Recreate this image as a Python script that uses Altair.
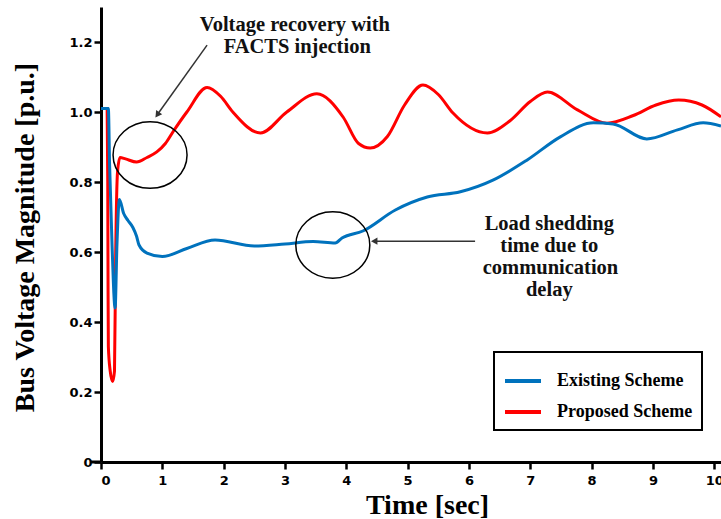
import altair as alt
import pandas as pd

# ---- data ----
time_existing = [0, 0.12, 0.14, 0.18, 0.23, 0.26, 0.30, 0.37, 0.44, 0.52, 0.58, 0.62, 0.75, 1.0, 1.4,
                 1.86, 2.5, 3.0, 3.46, 3.82, 3.93, 4.27, 4.8, 5.32, 5.86, 6.4, 6.95, 7.49, 8.03, 8.35,
                 8.9, 9.4, 9.82, 10.11]
v_existing = [1.01, 1.01, 0.85, 0.62, 0.44, 0.62, 0.75, 0.71, 0.69, 0.67, 0.645, 0.62, 0.597, 0.587, 0.61,
              0.634, 0.617, 0.623, 0.63, 0.626, 0.64, 0.66, 0.72, 0.757, 0.772, 0.806, 0.863, 0.929, 0.969, 0.966,
              0.923, 0.949, 0.969, 0.96]

time_proposed = [0, 0.10, 0.11, 0.115, 0.12, 0.15, 0.19, 0.22, 0.24, 0.27, 0.31, 0.40, 0.58, 0.75, 0.91,
                 1.05, 1.18, 1.4, 1.73, 1.95, 2.15, 2.6, 3.03, 3.52, 3.95, 4.2, 4.39, 4.67, 4.95, 5.25,
                 5.5, 5.74, 6.3, 6.67, 7.0, 7.28, 7.77, 8.25, 8.68, 9.05, 9.42, 9.8, 10.11]
v_proposed = [1.01, 1.01, 0.8, 0.5, 0.33, 0.26, 0.23, 0.26, 0.6, 0.83, 0.87, 0.866, 0.857, 0.87, 0.886,
              0.91, 0.945, 1.0, 1.07, 1.045, 1.0, 0.94, 1.0, 1.052, 0.985, 0.91, 0.897, 0.93, 1.02, 1.077,
              1.05, 0.997, 0.94, 0.975, 1.03, 1.057, 1.006, 0.968, 0.99, 1.02, 1.034, 1.02, 0.986]

series_names = ["Existing Scheme", "Proposed Scheme"]
series_colors = ["#0072BD", "#FF0000"]

x_ticks = list(range(0, 11))
y_ticks = [0, 0.2, 0.4, 0.6, 0.8, 1.0, 1.2]

# annotations (data coordinates)
note_text = ["Voltage recovery with", "FACTS injection",
             "Load shedding", "time due to", "communication", "delay"]
note_t = [3.16, 3.20, 7.31, 7.31, 7.33, 7.31]
note_v = [1.249, 1.186, 0.68, 0.617, 0.554, 0.491]

ellipse_t = [0.80, 3.78]
ellipse_v = [0.877, 0.62]

arrow_t0 = [1.73, 6.10]
arrow_v0 = [1.191, 0.631]
arrow_t1 = [0.92, 4.44]
arrow_v1 = [0.993, 0.631]
arrow_head_t = [0.918, 4.455]
arrow_head_v = [0.992, 0.631]
arrow_angle = [215.6, 270]

# ---- tables ----
df_e = pd.DataFrame({"t": time_existing, "v": v_existing, "series": series_names[0]})
df_p = pd.DataFrame({"t": time_proposed, "v": v_proposed, "series": series_names[1]})
df_notes = pd.DataFrame({"t": note_t, "v": note_v, "text": note_text})
df_ell = pd.DataFrame({"t": ellipse_t, "v": ellipse_v})
df_arr = pd.DataFrame({"t0": arrow_t0, "v0": arrow_v0, "t1": arrow_t1, "v1": arrow_v1})
df_head = pd.DataFrame({"t": arrow_head_t, "v": arrow_head_v, "angle": arrow_angle})

x_scale = alt.Scale(domain=[0, 10.11], nice=False, zero=False)
y_scale = alt.Scale(domain=[0, 1.3], nice=False)
color_scale = alt.Scale(domain=series_names, range=series_colors)

x_axis = alt.Axis(values=x_ticks, title="Time [sec]", format="d",
                  titleX=326, titleY=43, titleBaseline="middle", titleAlign="center",
                  labelPadding=5)
y_axis = alt.Axis(values=y_ticks, title="Bus Voltage Magnitude [p.u.]",
                  labelExpr="datum.value == 0 ? '0' : format(datum.value, '.1f')",
                  titleX=-76, titleY=230, titleBaseline="middle", titleAlign="center",
                  titleAngle=270, labelPadding=2)

legend = alt.Legend(title=None, orient="none", legendX=393, legendY=345,
                    symbolType="stroke", symbolSize=1296, symbolStrokeWidth=4,
                    labelFont="Liberation Serif", labelFontWeight="bold", labelFontSize=18,
                    labelColor="black", labelOffset=14, rowPadding=2, padding=9,
                    strokeColor="black", fillColor="white")

red_line = alt.Chart(df_p).mark_line(strokeWidth=3, interpolate="monotone").encode(
    x=alt.X("t:Q", scale=x_scale, axis=x_axis),
    y=alt.Y("v:Q", scale=y_scale, axis=y_axis),
    color=alt.Color("series:N", scale=color_scale, legend=legend),
)
blue_line = alt.Chart(df_e).mark_line(strokeWidth=3, interpolate="monotone").encode(
    x=alt.X("t:Q", scale=x_scale),
    y=alt.Y("v:Q", scale=y_scale),
    color=alt.Color("series:N", scale=color_scale, legend=legend),
)

ellipses = alt.Chart(df_ell).mark_point(
    shape="M -1 0 A 1 0.9 0 1 0 1 0 A 1 0.9 0 1 0 -1 0 Z",
    size=5476, filled=False, stroke="black", strokeWidth=1.5, opacity=1,
).encode(x=alt.X("t:Q", scale=x_scale), y=alt.Y("v:Q", scale=y_scale))

arrows = alt.Chart(df_arr).mark_rule(color="#333333", strokeWidth=1.5).encode(
    x=alt.X("t0:Q", scale=x_scale), y=alt.Y("v0:Q", scale=y_scale),
    x2="t1:Q", y2="v1:Q",
)
heads = alt.Chart(df_head).mark_point(shape="triangle-up", filled=True, size=55,
                                       color="#333333", opacity=1).encode(
    x=alt.X("t:Q", scale=x_scale), y=alt.Y("v:Q", scale=y_scale),
    angle=alt.Angle("angle:Q", scale=None),
)

notes = alt.Chart(df_notes).mark_text(font="Liberation Serif", fontWeight="bold",
                                       fontSize=20.5, color="#111111", baseline="middle",
                                       align="center").encode(
    x=alt.X("t:Q", scale=x_scale), y=alt.Y("v:Q", scale=y_scale), text="text:N",
)

axis_ext = alt.Chart(pd.DataFrame({"a": [0]})).mark_rule(color="black", strokeWidth=3).encode(
    x=alt.value(-11), x2=alt.value(0), y=alt.value(455),
)

chart = alt.layer(red_line, blue_line, ellipses, arrows, heads, notes, axis_ext).properties(
    width=620, height=455,
    autosize=alt.AutoSizeParams(type="none"),
    padding={"left": 101, "top": 7, "right": 0, "bottom": 57},
    background="white",
).configure_view(stroke=None).configure_axis(
    grid=False, domainColor="black", domainWidth=3, tickColor="black", tickWidth=2.5,
    tickSize=7, labelFont="DejaVu Sans", labelFontWeight="bold", labelFontSize=13,
    labelColor="black", titleFont="Liberation Serif", titleFontWeight="bold",
    titleFontSize=28, titleColor="black",
).configure_legend(strokeWidth=2)

chart.save("out.html", embed_options={"renderer": "svg", "actions": False})
